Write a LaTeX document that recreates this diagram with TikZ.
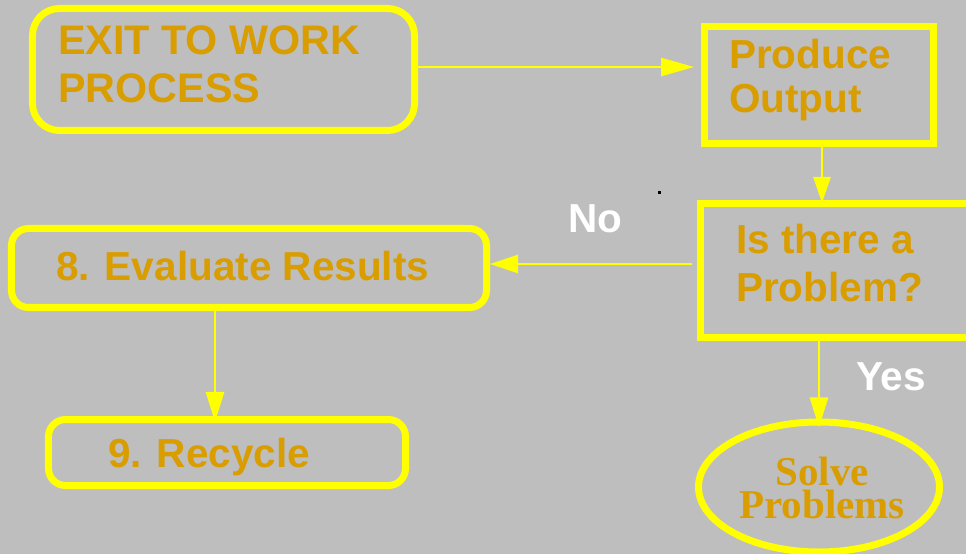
\documentclass[tikz,border=0pt]{standalone}
\usepackage{fontspec}
\setmainfont{Liberation Sans}
\newfontfamily\serifbold{Liberation Serif}
\usetikzlibrary{arrows.meta,shapes.geometric}
\definecolor{panelgrey}{RGB}{190,190,190}
\definecolor{boxyellow}{RGB}{255,255,0}
\definecolor{labelgold}{RGB}{217,157,0}
\begin{document}
\begin{tikzpicture}[x=1bp,y=-1bp,
  frame/.style={draw=boxyellow,line width=7bp,inner sep=0pt,rectangle},
  roundframe/.style={frame,rounded corners=#1},
  ovalframe/.style={draw=boxyellow,line width=7bp,inner sep=0pt,ellipse},
  boxtext/.style={text=labelgold,inner sep=0pt,anchor=base west,align=left,
    font=\bfseries\fontsize{40.5bp}{#1}\selectfont},
  boxtext/.default=48bp,
  answer/.style={text=white,inner sep=0pt,anchor=base west,
    font=\bfseries\fontsize{40.5bp}{48bp}\selectfont},
  arr/.style={draw=boxyellow,line width=2.7bp,-{Triangle[length=30bp,width=18bp]}}]
\useasboundingbox (0,0) rectangle (966,554);
\fill[panelgrey] (0,0) rectangle (966,554);
\clip (0,0) rectangle (966,554);

% boxes
\node[roundframe=27bp,minimum width=382bp,minimum height=122bp] (b1) at (223.5,69.5) {};
\node[frame,minimum width=229bp,minimum height=117bp] (b2) at (819,85) {};
\node[frame,minimum width=299.5bp,minimum height=134bp] (b3) at (850.25,270.5) {};
\node[roundframe=17bp,minimum width=475bp,minimum height=79bp] (b8) at (249,268) {};
\node[roundframe=17bp,minimum width=357bp,minimum height=66bp] (b9) at (227,452.5) {};
\node[ovalframe,minimum width=241bp,minimum height=130bp] (ell) at (819,487) {};

% box texts (multi-line nodes sit on the baseline of their last line)
\node[boxtext,font=\bfseries\fontsize{41.3bp}{48bp}\selectfont] (t1) at (58,103) {EXIT TO WORK\\PROCESS};
\node[boxtext=44bp] (t2) at (729,113) {Produce\\Output};
\node[boxtext] (t3) at (736,302) {Is there a\\Problem?};
\node[boxtext] (t8) at (56,281) {8. Evaluate Results};
\node[boxtext] (t9) at (108,467) {9. Recycle};
\node[text=labelgold,inner sep=0pt,anchor=base,align=center,
  font=\serifbold\bfseries\fontsize{41bp}{33bp}\selectfont] (t6) at (822,518) {Solve\\Problems};

% branch labels
\node[answer] (no) at (568,233) {No};
\node[answer] (yes) at (856,390) {Yes};

% stray mark
\fill[black] (658,191) rectangle (661,194);

% connectors
\coordinate (a1) at ([yshift=2.5bp]b1.east);
\draw[arr,-{Triangle[length=33bp,width=18bp]},shorten >=7bp] (a1) -- (a1 -| b2.west);
\coordinate (a2) at ([xshift=3bp]b2.south);
\draw[arr,-{Triangle[length=26bp,width=17bp]},shorten >=-3bp] (a2) -- (a2 |- b3.north);
\coordinate (a3) at ([yshift=6.5bp]b3.west);
\draw[arr,-{Triangle[length=28bp,width=18bp]},shorten <=5bp] (a3) -- (a3 -| b8.east);
\coordinate (a4) at ([xshift=-34bp]b8.south);
\draw[arr,shorten >=-6bp] (a4) -- (a4 |- b9.north);
\coordinate (a5) at (ell.north |- b3.south);
\draw[arr,shorten >=-9bp] (a5) -- (ell.north);
\end{tikzpicture}
\end{document}
